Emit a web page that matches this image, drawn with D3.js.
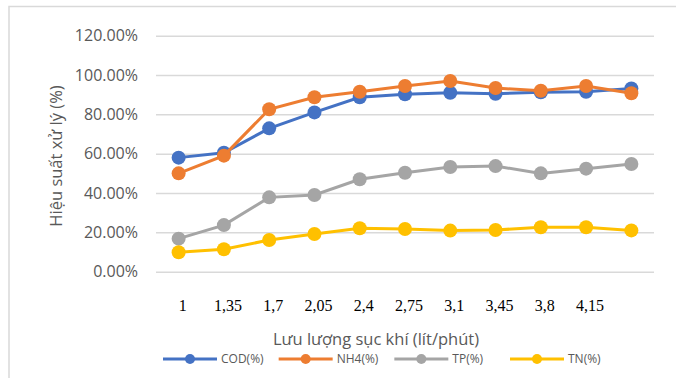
<!DOCTYPE html>
<html>
<head>
<meta charset="utf-8">
<script src="https://cdn.jsdelivr.net/npm/d3@7"></script>
<style>
  body { margin: 0; background: #fff; }
  svg { display: block; }
</style>
</head>
<body>
<div id="chart"></div>
<script>
  ///////////////////////////////// Data /////////////////////////////////
  var categories = ["1", "1,35", "1,7", "2,05", "2,4", "2,75", "3,1", "3,45", "3,8", "4,15", ""]
  var codValues = [58.0, 60.5, 72.9, 81.0, 88.7, 90.2, 91.0, 90.5, 91.2, 91.5, 93.2]
  var nh4Values = [50.0, 59.0, 82.6, 88.7, 91.5, 94.4, 97.0, 93.4, 92.0, 94.4, 90.7]
  var tpValues = [16.8, 23.7, 37.8, 39.0, 47.0, 50.3, 53.2, 53.7, 50.0, 52.4, 54.8]
  var tnValues = [9.9, 11.4, 16.1, 19.2, 22.1, 21.7, 20.9, 21.2, 22.6, 22.6, 21.0]
  var yTicks = [0, 0.2, 0.4, 0.6, 0.8, 1.0, 1.2]

  var series = [
    { name: "COD(%)", values: codValues, color: "#4472C4" },
    { name: "NH4(%)", values: nh4Values, color: "#ED7D31" },
    { name: "TP(%)", values: tpValues, color: "#A5A5A5" },
    { name: "TN(%)", values: tnValues, color: "#FFC000" }
  ]

  ////////////////////////////// Layout //////////////////////////////////
  var W = 676, H = 378
  var plot = { left: 156, right: 654, top: 35.7, bottom: 271.7 }
  var textGray = "#595959"
  var sans = "'Open Sans', 'Noto Sans', sans-serif"

  var svg = d3.select("#chart").append("svg")
    .attr("width", W)
    .attr("height", H)

  // chart frame (only top and left edges show in the picture)
  svg.append("path")
    .attr("d", "M9,378 L9,6.5 L676,6.5")
    .attr("fill", "none")
    .attr("stroke", "#d9d9d9")
    .attr("stroke-width", 1.5)

  ////////////////////////////// Scales //////////////////////////////////
  var x = d3.scaleBand()
    .domain(categories)
    .range([plot.left, plot.right])
    .padding(0)

  var y = d3.scaleLinear()
    .domain([0, 1.2])
    .range([plot.bottom, plot.top])

  var cx = function (c) { return x(c) + x.bandwidth() / 2 }

  ////////////////////////////// Axes ////////////////////////////////////
  var yAxis = svg.append("g")
    .attr("transform", "translate(" + plot.left + ",0)")
    .call(d3.axisLeft(y)
      .tickValues(yTicks)
      .tickFormat(d3.format(".2%"))
      .tickSize(-(plot.right - plot.left))
      .tickPadding(18))

  yAxis.select(".domain").remove()
  yAxis.selectAll(".tick line")
    .attr("stroke", "#d9d9d9")
    .attr("stroke-width", 1.5)
  yAxis.selectAll(".tick text")
    .attr("fill", textGray)
    .style("font-family", sans)
    .style("font-size", "16px")

  var xAxis = svg.append("g")
    .attr("transform", "translate(4," + plot.bottom + ")")
    .call(d3.axisBottom(x).tickSize(0).tickPadding(28))

  xAxis.select(".domain").remove()
  xAxis.selectAll(".tick text")
    .attr("fill", "#000")
    .style("font-family", "'Liberation Serif', 'Times New Roman', serif")
    .style("font-size", "16px")

  // axis titles
  svg.append("text")
    .attr("x", 376)
    .attr("y", 345)
    .attr("text-anchor", "middle")
    .attr("fill", textGray)
    .style("font-family", sans)
    .style("font-size", "16.5px")
    .text("Lưu lượng sục khí (lít/phút)")

  svg.append("text")
    .attr("transform", "translate(62,156) rotate(-90)")
    .attr("text-anchor", "middle")
    .attr("fill", textGray)
    .style("font-family", sans)
    .style("font-size", "16.5px")
    .text("Hiệu suất xử lý (%)")

  ////////////////////////////// Lines //////////////////////////////////
  var line = d3.line()
    .x(function (d, i) { return cx(categories[i]) })
    .y(function (d) { return y(d / 100) })

  var groups = svg.selectAll(".series")
    .data(series)
    .enter().append("g")
    .attr("class", "series")

  groups.append("path")
    .attr("d", function (s) { return line(s.values) })
    .attr("fill", "none")
    .attr("stroke", function (s) { return s.color })
    .attr("stroke-width", 3)

  groups.selectAll("circle")
    .data(function (s) { return s.values.map(function (v, i) { return { v: v, i: i, color: s.color } }) })
    .enter().append("circle")
    .attr("cx", function (d) { return cx(categories[d.i]) })
    .attr("cy", function (d) { return y(d.v / 100) })
    .attr("r", 7)
    .attr("fill", function (d) { return d.color })

  ////////////////////////////// Legend //////////////////////////////////
  var legendX = d3.scalePoint()
    .domain(series.map(function (s) { return s.name }))
    .range([163, 510])

  var legend = svg.selectAll(".legend")
    .data(series)
    .enter().append("g")
    .attr("class", "legend")
    .attr("transform", function (s) { return "translate(" + legendX(s.name) + ",359)" })

  legend.append("line")
    .attr("x1", 0).attr("x2", 54)
    .attr("stroke", function (s) { return s.color })
    .attr("stroke-width", 3)

  legend.append("circle")
    .attr("cx", 27)
    .attr("r", 5)
    .attr("fill", function (s) { return s.color })

  legend.append("text")
    .attr("x", 58)
    .attr("dy", "0.35em")
    .attr("fill", textGray)
    .style("font-family", sans)
    .style("font-size", "12px")
    .text(function (s) { return s.name })
</script>
</body>
</html>
